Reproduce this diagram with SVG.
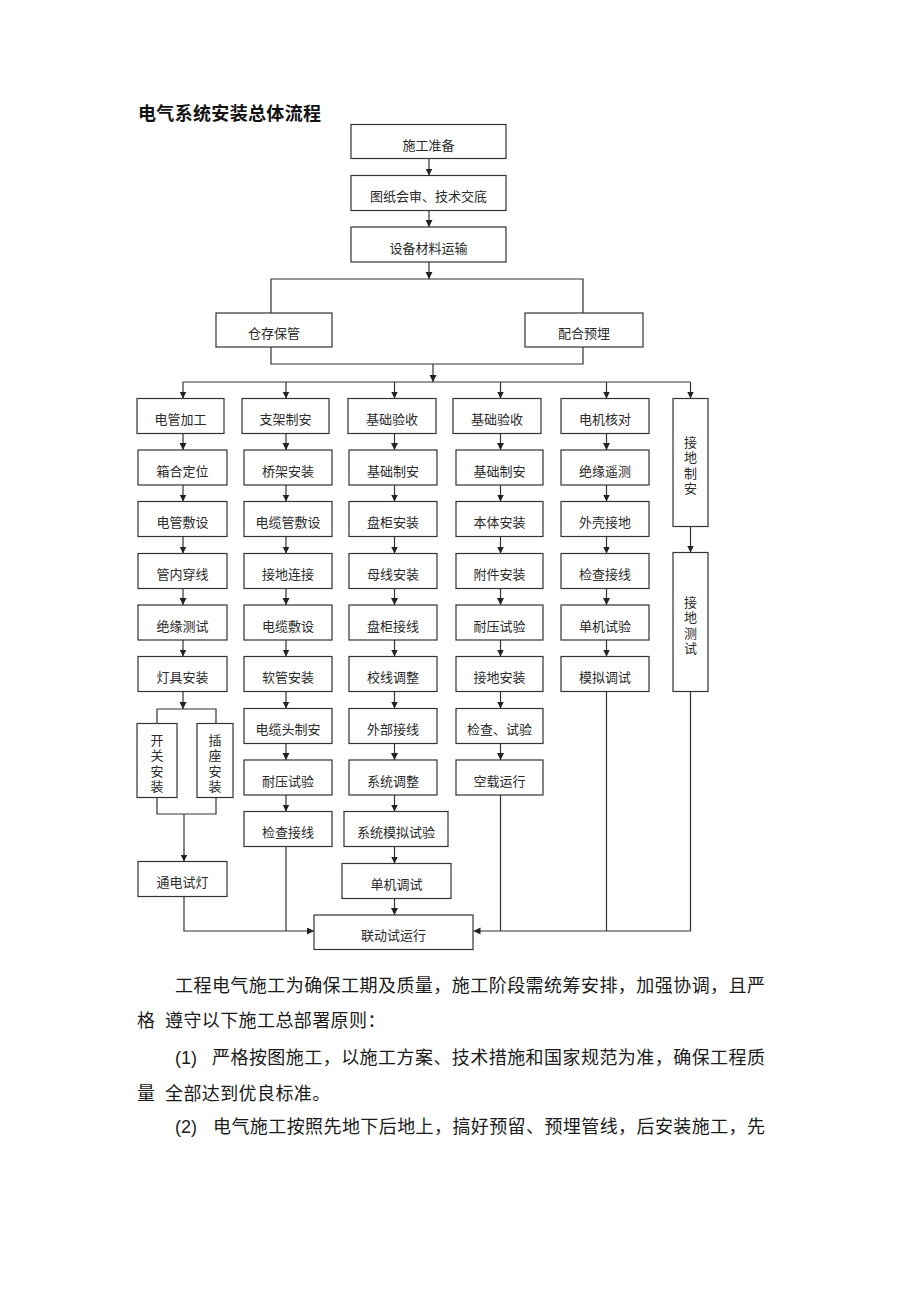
<svg xmlns="http://www.w3.org/2000/svg" width="920" height="1302" viewBox="0 0 920 1302">
<style>
.box{fill:#fff;stroke:#333;stroke-width:1.2}
.lbl{font-family:"Noto Sans CJK SC",sans-serif;font-size:13px;fill:#2a2a2a;text-anchor:middle}
.vl{font-family:"Noto Sans CJK SC",sans-serif;font-size:13px;fill:#2a2a2a;text-anchor:middle;writing-mode:vertical-rl;letter-spacing:2.5px}
.con{fill:none;stroke:#333;stroke-width:1.2}
.arr{marker-end:url(#ah)}
.para{font-family:"Noto Sans CJK SC",sans-serif;font-size:18px;fill:#1a1a1a}
.num{font-family:"Liberation Sans",Arial,sans-serif;font-size:18px;fill:#1a1a1a}
</style>
<defs>
<marker id="ah" markerUnits="userSpaceOnUse" markerWidth="8" markerHeight="8" refX="7" refY="3.5" orient="auto">
<path d="M0,0 L7,3.5 L0,7 z" fill="#222"/>
</marker>
</defs>
<rect width="920" height="1302" fill="#fff"/>
<text x="138" y="120" font-family="'Noto Sans CJK SC',sans-serif" font-size="18" font-weight="bold" fill="#111" textLength="183" lengthAdjust="spacing">电气系统安装总体流程</text>

<g id="connectors">
<path class="con arr" d="M429,158.5 V175.5"/>
<path class="con arr" d="M429,210.5 V227"/>
<path class="con arr" d="M429,262 V279"/>
<path class="con" d="M271,313 V279 H583 V313"/>
<path class="con" d="M271,347 V364 H583 V347"/>
<path class="con arr" d="M433,364 V382"/>
<path class="con" d="M183,382 H690.5"/>
<path class="con arr" d="M183,382 V398.5"/>
<path class="con arr" d="M286,382 V398.5"/>
<path class="con arr" d="M394.5,382 V398.5"/>
<path class="con arr" d="M500.5,382 V398.5"/>
<path class="con arr" d="M606.5,382 V398.5"/>
<path class="con arr" d="M690.5,382 V398.5"/>
<path class="con arr" d="M183,433.5 V450"/>
<path class="con arr" d="M183,485 V501.5"/>
<path class="con arr" d="M183,536.5 V553.5"/>
<path class="con arr" d="M183,588.5 V605"/>
<path class="con arr" d="M183,640 V656.5"/>
<path class="con arr" d="M183,691.5 V709"/>
<path class="con" d="M157,723.5 V709 H216 V723.5"/>
<path class="con" d="M157,797.5 V814 H216 V797.5"/>
<path class="con arr" d="M184,814 V861.5"/>
<path class="con arr" d="M184,896.5 V931 H314"/>
<path class="con arr" d="M286,433.5 V450"/>
<path class="con arr" d="M286,485 V501.5"/>
<path class="con arr" d="M286,536.5 V553.5"/>
<path class="con arr" d="M286,588.5 V605"/>
<path class="con arr" d="M286,640 V656.5"/>
<path class="con arr" d="M286,691.5 V708.5"/>
<path class="con arr" d="M286,743.5 V760"/>
<path class="con arr" d="M286,795 V811.5"/>
<path class="con" d="M286,846.5 V931"/>
<path class="con arr" d="M394.5,433.5 V450"/>
<path class="con arr" d="M394.5,485 V501.5"/>
<path class="con arr" d="M394.5,536.5 V553.5"/>
<path class="con arr" d="M394.5,588.5 V605"/>
<path class="con arr" d="M394.5,640 V656.5"/>
<path class="con arr" d="M394.5,691.5 V708.5"/>
<path class="con arr" d="M394.5,743.5 V760"/>
<path class="con arr" d="M394.5,795 V811.5"/>
<path class="con arr" d="M394.5,846.5 V863.5"/>
<path class="con arr" d="M394.5,898.5 V915"/>
<path class="con arr" d="M500.5,433.5 V450"/>
<path class="con arr" d="M500.5,485 V501.5"/>
<path class="con arr" d="M500.5,536.5 V553.5"/>
<path class="con arr" d="M500.5,588.5 V605"/>
<path class="con arr" d="M500.5,640 V656.5"/>
<path class="con arr" d="M500.5,691.5 V708.5"/>
<path class="con arr" d="M500.5,743.5 V760"/>
<path class="con" d="M500.5,795 V931"/>
<path class="con arr" d="M606.5,433.5 V450"/>
<path class="con arr" d="M606.5,485 V501.5"/>
<path class="con arr" d="M606.5,536.5 V553.5"/>
<path class="con arr" d="M606.5,588.5 V605"/>
<path class="con arr" d="M606.5,640 V656.5"/>
<path class="con" d="M606.5,691.5 V931"/>
<path class="con arr" d="M690.5,526.5 V552.5"/>
<path class="con arr" d="M690.5,691.5 V931 H473.5"/>
</g>

<g id="n-sgzb"><rect class="box" x="351" y="124.5" width="155" height="34"/><text class="lbl" x="428.5" y="149.5">施工准备</text></g>
<g id="n-tzhs"><rect class="box" x="351" y="175.5" width="155" height="35"/><text class="lbl" x="428.5" y="201">图纸会审、技术交底</text></g>
<g id="n-sbcl"><rect class="box" x="351" y="227" width="155" height="35"/><text class="lbl" x="428.5" y="252.5">设备材料运输</text></g>
<g id="n-ccbg"><rect class="box" x="216" y="313" width="116" height="34"/><text class="lbl" x="274" y="338">仓存保管</text></g>
<g id="n-phyu"><rect class="box" x="525" y="313" width="118" height="34"/><text class="lbl" x="584" y="338">配合预埋</text></g>

<g id="c1-1"><rect class="box" x="137" y="398.5" width="87" height="35"/><text class="lbl" x="180.5" y="424">电管加工</text></g>
<g id="c1-2"><rect class="box" x="138" y="450" width="89" height="35"/><text class="lbl" x="182.5" y="475.5">箱合定位</text></g>
<g id="c1-3"><rect class="box" x="138" y="501.5" width="89" height="35"/><text class="lbl" x="182.5" y="527">电管敷设</text></g>
<g id="c1-4"><rect class="box" x="138" y="553.5" width="89" height="35"/><text class="lbl" x="182.5" y="579">管内穿线</text></g>
<g id="c1-5"><rect class="box" x="138" y="605" width="89" height="35"/><text class="lbl" x="182.5" y="630.5">绝缘测试</text></g>
<g id="c1-6"><rect class="box" x="138" y="656.5" width="89" height="35"/><text class="lbl" x="182.5" y="682">灯具安装</text></g>
<g id="c1-kg"><rect class="box" x="137" y="723.5" width="40" height="74"/><text class="vl" x="157" y="764.5">开关安装</text></g>
<g id="c1-cz"><rect class="box" x="197" y="723.5" width="36" height="74"/><text class="vl" x="215" y="764.5">插座安装</text></g>
<g id="c1-td"><rect class="box" x="138" y="861.5" width="89" height="35"/><text class="lbl" x="182.5" y="887">通电试灯</text></g>

<g id="c2-1"><rect class="box" x="242" y="398.5" width="87" height="35"/><text class="lbl" x="285.5" y="424">支架制安</text></g>
<g id="c2-2"><rect class="box" x="244" y="450" width="88" height="35"/><text class="lbl" x="288" y="475.5">桥架安装</text></g>
<g id="c2-3"><rect class="box" x="244" y="501.5" width="88" height="35"/><text class="lbl" x="288" y="527">电缆管敷设</text></g>
<g id="c2-4"><rect class="box" x="244" y="553.5" width="88" height="35"/><text class="lbl" x="288" y="579">接地连接</text></g>
<g id="c2-5"><rect class="box" x="244" y="605" width="88" height="35"/><text class="lbl" x="288" y="630.5">电缆敷设</text></g>
<g id="c2-6"><rect class="box" x="244" y="656.5" width="88" height="35"/><text class="lbl" x="288" y="682">软管安装</text></g>
<g id="c2-7"><rect class="box" x="244" y="708.5" width="88" height="35"/><text class="lbl" x="288" y="734">电缆头制安</text></g>
<g id="c2-8"><rect class="box" x="244" y="760" width="88" height="35"/><text class="lbl" x="288" y="785.5">耐压试验</text></g>
<g id="c2-9"><rect class="box" x="244" y="811.5" width="88" height="35"/><text class="lbl" x="288" y="837">检查接线</text></g>

<g id="c3-1"><rect class="box" x="348" y="398.5" width="88" height="35"/><text class="lbl" x="392" y="424">基础验收</text></g>
<g id="c3-2"><rect class="box" x="349" y="450" width="88" height="35"/><text class="lbl" x="393" y="475.5">基础制安</text></g>
<g id="c3-3"><rect class="box" x="349" y="501.5" width="88" height="35"/><text class="lbl" x="393" y="527">盘柜安装</text></g>
<g id="c3-4"><rect class="box" x="349" y="553.5" width="88" height="35"/><text class="lbl" x="393" y="579">母线安装</text></g>
<g id="c3-5"><rect class="box" x="349" y="605" width="88" height="35"/><text class="lbl" x="393" y="630.5">盘柜接线</text></g>
<g id="c3-6"><rect class="box" x="349" y="656.5" width="88" height="35"/><text class="lbl" x="393" y="682">校线调整</text></g>
<g id="c3-7"><rect class="box" x="349" y="708.5" width="88" height="35"/><text class="lbl" x="393" y="734">外部接线</text></g>
<g id="c3-8"><rect class="box" x="349" y="760" width="88" height="35"/><text class="lbl" x="393" y="785.5">系统调整</text></g>
<g id="c3-9"><rect class="box" x="344" y="811.5" width="104" height="35"/><text class="lbl" x="396" y="837">系统模拟试验</text></g>
<g id="c3-10"><rect class="box" x="342" y="863.5" width="109" height="35"/><text class="lbl" x="396.5" y="889">单机调试</text></g>

<g id="c4-1"><rect class="box" x="453" y="398.5" width="88" height="35"/><text class="lbl" x="497" y="424">基础验收</text></g>
<g id="c4-2"><rect class="box" x="456" y="450" width="87" height="35"/><text class="lbl" x="499.5" y="475.5">基础制安</text></g>
<g id="c4-3"><rect class="box" x="456" y="501.5" width="87" height="35"/><text class="lbl" x="499.5" y="527">本体安装</text></g>
<g id="c4-4"><rect class="box" x="456" y="553.5" width="87" height="35"/><text class="lbl" x="499.5" y="579">附件安装</text></g>
<g id="c4-5"><rect class="box" x="456" y="605" width="87" height="35"/><text class="lbl" x="499.5" y="630.5">耐压试验</text></g>
<g id="c4-6"><rect class="box" x="456" y="656.5" width="87" height="35"/><text class="lbl" x="499.5" y="682">接地安装</text></g>
<g id="c4-7"><rect class="box" x="456" y="708.5" width="87" height="35"/><text class="lbl" x="499.5" y="734">检查、试验</text></g>
<g id="c4-8"><rect class="box" x="456" y="760" width="87" height="35"/><text class="lbl" x="499.5" y="785.5">空载运行</text></g>

<g id="c5-1"><rect class="box" x="561" y="398.5" width="88" height="35"/><text class="lbl" x="605" y="424">电机核对</text></g>
<g id="c5-2"><rect class="box" x="561" y="450" width="88" height="35"/><text class="lbl" x="605" y="475.5">绝缘遥测</text></g>
<g id="c5-3"><rect class="box" x="561" y="501.5" width="88" height="35"/><text class="lbl" x="605" y="527">外壳接地</text></g>
<g id="c5-4"><rect class="box" x="561" y="553.5" width="88" height="35"/><text class="lbl" x="605" y="579">检查接线</text></g>
<g id="c5-5"><rect class="box" x="561" y="605" width="88" height="35"/><text class="lbl" x="605" y="630.5">单机试验</text></g>
<g id="c5-6"><rect class="box" x="561" y="656.5" width="88" height="35"/><text class="lbl" x="605" y="682">模拟调试</text></g>

<g id="c6-1"><rect class="box" x="673" y="398.5" width="35" height="128"/><text class="vl" x="690.5" y="466.5">接地制安</text></g>
<g id="c6-2"><rect class="box" x="673" y="552.5" width="35" height="139"/><text class="vl" x="690.5" y="626.5">接地测试</text></g>

<g id="n-ldsyx"><rect class="box" x="314" y="915" width="159" height="34.5"/><text class="lbl" x="393.5" y="940">联动试运行</text></g>

<g id="paragraph">
<text class="para" x="175" y="992" textLength="590" lengthAdjust="spacing">工程电气施工为确保工期及质量，施工阶段需统筹安排，加强协调，且严</text>
<text class="para" y="1027"><tspan x="137">格</tspan><tspan x="165" letter-spacing="0.4">遵守以下施工总部署原则：</tspan></text>
<text class="num" x="175" y="1064">(1)</text>
<text class="para" x="212" y="1064" textLength="553" lengthAdjust="spacing">严格按图施工，以施工方案、技术措施和国家规范为准，确保工程质</text>
<text class="para" y="1100"><tspan x="137">量</tspan><tspan x="165" letter-spacing="0.4">全部达到优良标准。</tspan></text>
<text class="num" x="175" y="1133">(2)</text>
<text class="para" x="213" y="1133" textLength="552" lengthAdjust="spacing">电气施工按照先地下后地上，搞好预留、预埋管线，后安装施工，先</text>
</g>
</svg>
